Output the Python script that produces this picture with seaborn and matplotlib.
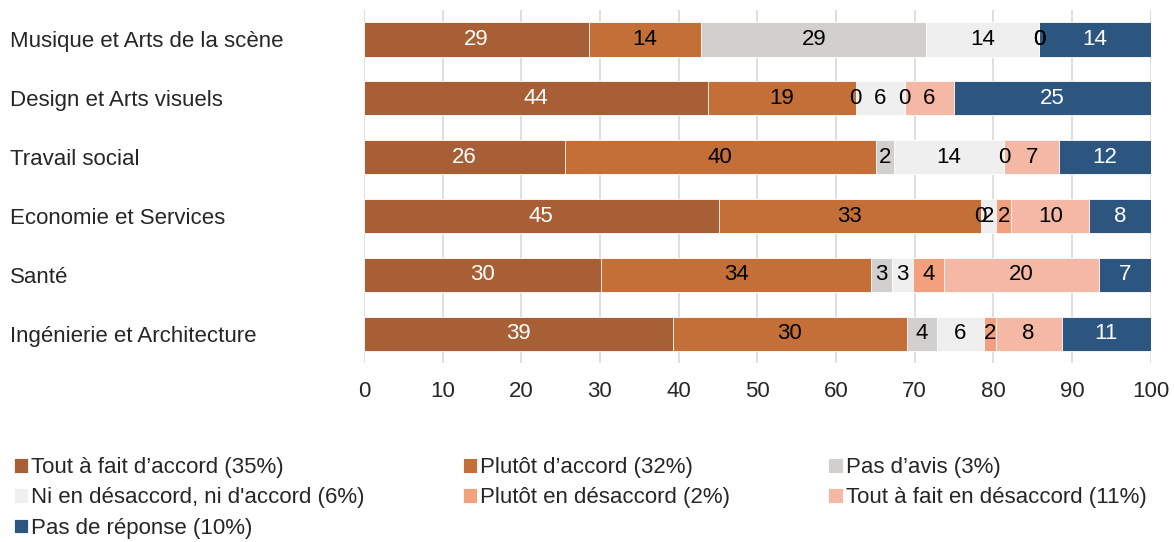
import numpy as np
import pandas as pd
import seaborn as sns
import matplotlib.pyplot as plt

# data (shares in %, each row sums to 100)
filieres = ["Musique et Arts de la scène", "Design et Arts visuels", "Travail social",
            "Economie et Services", "Santé", "Ingénierie et Architecture"]
reponses = ["Tout à fait d’accord (35%)", "Plutôt d’accord (32%)", "Pas d’avis (3%)",
            "Ni en désaccord, ni d'accord (6%)", "Plutôt en désaccord (2%)",
            "Tout à fait en désaccord (11%)", "Pas de réponse (10%)"]
tout_accord = [28.6, 43.75, 25.5, 45.1, 30.1, 39.3]
plutot_accord = [14.3, 18.75, 39.6, 33.3, 34.4, 29.7]
pas_avis = [28.6, 0.0, 2.3, 0.0, 2.6, 3.8]
ni_ni = [14.3, 6.25, 14.0, 2.0, 2.7, 6.0]
plutot_desaccord = [0.0, 0.0, 0.0, 1.9, 3.9, 1.5]
tout_desaccord = [0.0, 6.25, 7.0, 9.9, 19.7, 8.4]
pas_reponse = [14.2, 25.0, 11.6, 7.8, 6.6, 11.3]

couleurs = ["#A85F35", "#C46F37", "#D1D0CE", "#EFEFEF", "#F2A07E", "#F5B8A5", "#2C5680"]
texte = ["white", "black", "black", "black", "black", "black", "white"]

df = pd.DataFrame(np.array([tout_accord, plutot_accord, pas_avis, ni_ni,
                            plutot_desaccord, tout_desaccord, pas_reponse]).T,
                  index=filieres, columns=reponses)
cum = df.cumsum(axis=1)

sns.set_theme(style="white")
plt.rcParams["font.family"] = ["Liberation Sans", "DejaVu Sans"]
fs = 16

fig = plt.figure(figsize=(11.74, 5.42), dpi=100)
ax = fig.add_axes([0.310, 0.330, 0.670, 0.6515])

# stacked bars: draw the cumulative totals from the last layer back to the first
for i in range(len(reponses) - 1, -1, -1):
    sns.barplot(x=cum.iloc[:, i].values, y=filieres, orient="h", color=couleurs[i],
                width=0.58, saturation=1, edgecolor="white", linewidth=0.6,
                ax=ax, label=reponses[i], zorder=2)
ax.legend_.remove()

for i, col in enumerate(reponses):
    centres = cum[col] - df[col] / 2
    for j, (c, v) in enumerate(zip(centres, df[col])):
        ax.text(c, j, "%.0f" % v, ha="center", va="center", fontsize=fs,
                color=texte[i], zorder=3)

ax.set_xlim(0, 100)
ax.set_xticks(range(0, 101, 10))
ax.set_ylim(5.5, -0.5)
ax.grid(axis="x", color="#D9D9D9", linewidth=1.2, zorder=0)
ax.set_axisbelow(True)
sns.despine(ax=ax, left=True, bottom=True)
ax.set_xlabel("")
ax.set_ylabel("")
ax.tick_params(axis="x", length=0, pad=13, labelsize=fs)
ax.tick_params(axis="y", length=0, pad=255, labelsize=fs)
for lab in ax.get_yticklabels():
    lab.set_horizontalalignment("left")

h, l = ax.get_legend_handles_labels()
ordre = {lab: k for k, lab in enumerate(reponses)}
paires = sorted(zip(h, l), key=lambda p: ordre[p[1]])
h = [p[0] for p in paires]
l = [p[1] for p in paires]
sel = [0, 3, 6, 1, 4, 2, 5]
fig.legend([h[k] for k in sel], [l[k] for k in sel], loc="upper left",
           bbox_to_anchor=(0.004, 0.173), ncol=3, frameon=False, fontsize=fs,
           handlelength=0.65, handleheight=0.65, handletextpad=0.15,
           columnspacing=4.4, labelspacing=0.42, borderaxespad=0)

fig.savefig("out.png", dpi=100)
